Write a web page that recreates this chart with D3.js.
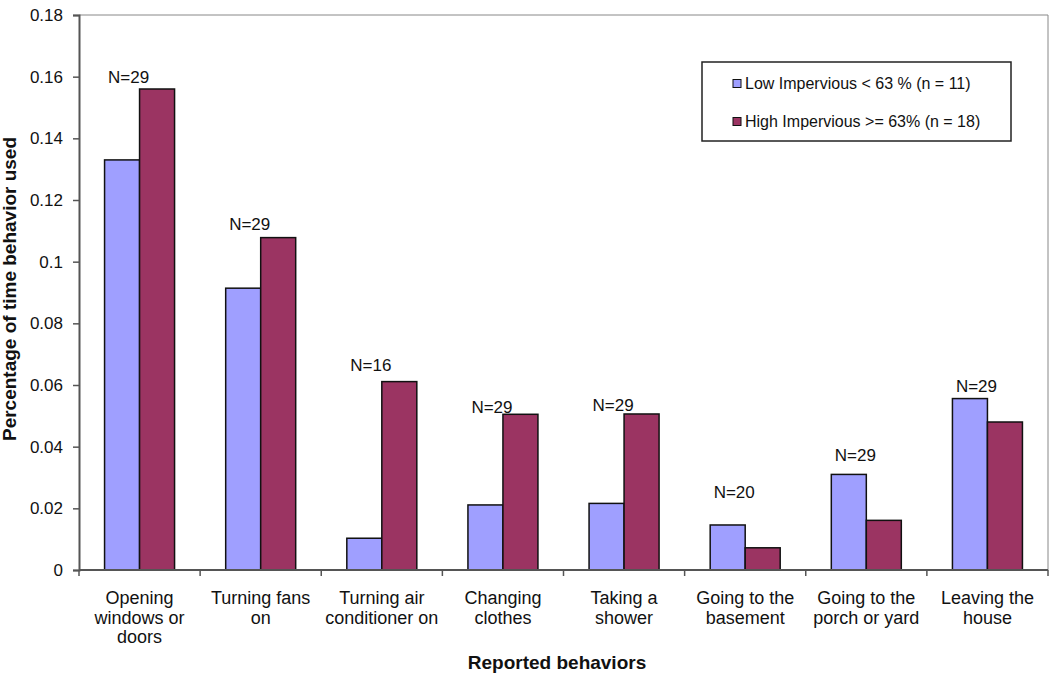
<!DOCTYPE html>
<html><head><meta charset="utf-8">
<script src="https://cdn.jsdelivr.net/npm/d3@7"></script>
<style>body{margin:0;background:#fff}svg{display:block}text{font-family:"Liberation Sans",Arial,sans-serif}</style>
</head><body>
<svg id="c" width="1050" height="683"></svg>
<script>
const categories = [["Opening","windows or","doors"],["Turning fans","on"],["Turning air","conditioner on"],["Changing","clothes"],["Taking a","shower"],["Going to the","basement"],["Going to the","porch or yard"],["Leaving the","house"]];
const seriesNames = ["Low Impervious < 63 % (n = 11)","High Impervious >= 63% (n = 18)"];
const lowValues = [0.133,0.0914,0.0103,0.0211,0.0216,0.0146,0.031,0.0556];
const highValues = [0.156,0.1078,0.0611,0.0505,0.0506,0.0072,0.0161,0.048];
const nLabels = ["N=29","N=29","N=16","N=29","N=29","N=20","N=29","N=29"];
const nLabelAt = [0.160,0.1122,0.0665,0.053,0.0535,0.0254,0.0373,0.0598];
const yTicks = [0,0.02,0.04,0.06,0.08,0.1,0.12,0.14,0.16,0.18];
const colors = ["#9f9fff","#9b3462"];

const svg = d3.select("#c");
const L=79,R=1048,T=15,B=570;
const x = d3.scaleBand().domain(d3.range(categories.length)).range([L,R]);
const y = d3.scaleLinear().domain([0,0.18]).range([B,T]);
const bw = 35;

// frame top/right
svg.append("path").attr("d",`M${L},${T}H${R}V${B}`).attr("fill","none").attr("stroke","#888").attr("stroke-width",1);

// y axis
const ya = svg.append("g").attr("transform",`translate(${L},0)`).call(d3.axisLeft(y).tickValues(yTicks).tickSize(6).tickPadding(10).tickFormat(d=>d3.format("~g")(d)));
ya.select(".domain").attr("stroke","#555").attr("stroke-width",2);
ya.selectAll(".tick line").attr("stroke","#555").attr("stroke-width",1.5);
ya.selectAll(".tick text").attr("font-size",17).attr("fill","#111").attr("font-family","Liberation Sans, Arial, sans-serif");

// bars
const g = svg.append("g");
categories.forEach((c,i)=>{
  const cx = x(i)+x.bandwidth()/2;
  [lowValues[i],highValues[i]].forEach((v,k)=>{
    g.append("rect").attr("x",cx-bw+k*bw).attr("y",y(v)).attr("width",bw).attr("height",B-y(v))
     .attr("fill",colors[k]).attr("stroke","#111").attr("stroke-width",1.5);
  });
  svg.append("text").attr("x",cx-11).attr("y",y(nLabelAt[i])).attr("dy","0.35em").attr("text-anchor","middle")
    .attr("font-size",17).attr("fill","#111").text(nLabels[i]);
});

// x axis
const xa = svg.append("g").attr("transform",`translate(0,${B})`);
xa.append("line").attr("x1",L).attr("x2",R).attr("stroke","#555").attr("stroke-width",2);
d3.range(categories.length+1).forEach(i=>{
  const px = i<categories.length? x(i) : R;
  xa.append("line").attr("x1",px).attr("x2",px).attr("y1",0).attr("y2",6).attr("stroke","#555").attr("stroke-width",1.5);
});
categories.forEach((lines,i)=>{
  const t = svg.append("text").attr("text-anchor","middle").attr("font-size",18).attr("fill","#111");
  lines.forEach((ln,j)=>t.append("tspan").attr("x",x(i)+x.bandwidth()/2).attr("y",604+j*19.5).text(ln));
});

// axis titles
svg.append("text").attr("x",557).attr("y",669).attr("text-anchor","middle").attr("font-size",19).attr("font-weight","bold").attr("fill","#111").text("Reported behaviors");
svg.append("text").attr("transform","translate(16,289) rotate(-90)").attr("text-anchor","middle").attr("font-size",19).attr("font-weight","bold").attr("fill","#111").text("Percentage of time behavior used");

// legend
svg.append("rect").attr("x",702).attr("y",62).attr("width",309).attr("height",79).attr("fill","#fff").attr("stroke","#222").attr("stroke-width",1.5);
seriesNames.forEach((s,k)=>{
  const yy = k===0?83.5:121.5;
  svg.append("rect").attr("x",733).attr("y",yy-4).attr("width",8).attr("height",8).attr("fill",colors[k]).attr("stroke","#111").attr("stroke-width",1);
  svg.append("text").attr("x",745).attr("y",yy).attr("dy","0.35em").attr("font-size",16).attr("fill","#111").text(s);
});
</script>
</body></html>
